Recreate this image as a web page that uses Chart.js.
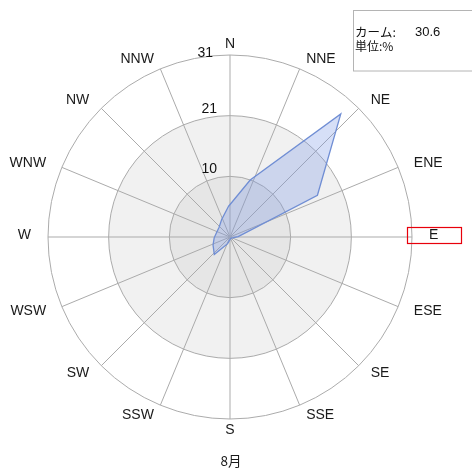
<!DOCTYPE html>
<html><head><meta charset="utf-8">
<script src="https://cdn.jsdelivr.net/npm/chart.js@4/dist/chart.umd.min.js"></script>
<style>html,body{margin:0;padding:0;background:#fff}canvas{display:block}</style>
</head><body>
<canvas id="c" width="472" height="472"></canvas>
<script>
const DIRECTIONS = ['N','NNE','NE','ENE','E','ESE','SE','SSE','S','SSW','SW','WSW','W','WNW','NW','NNW'];
const FREQUENCY = [5.2, 10.3, 28.2, 16.5, 1.4, 0.5, 0.3, 0.3, 0.4, 1.2, 4.0, 3.2, 2.7, 2.4, 2.5, 3.3];
const CALM = 30.6;
const UNIT = '%';
const MONTH_LABEL = '8月';
const SCALE_MAX = 31;
const RING_VALUES = [10.33, 20.67, 31];
const RING_LABELS = ['10', '21', '31'];
const HIGHLIGHT = 'E';

const FONT = '"Liberation Sans", Arial, "Noto Sans CJK JP", sans-serif';
const JFONT = '"Noto Sans CJK JP", "Liberation Sans", sans-serif';

const decor = {
  id: 'decor',
  beforeDraw(chart) {
    const s = chart.scales.r, ctx = chart.ctx;
    const fills = ['#ffffff', '#f1f1f1', '#e6e6e6'];
    const vals = [RING_VALUES[2], RING_VALUES[1], RING_VALUES[0]];
    ctx.save();
    vals.forEach((v, i) => {
      ctx.beginPath();
      ctx.arc(s.xCenter, s.yCenter, s.getDistanceFromCenterForValue(v), 0, Math.PI * 2);
      ctx.fillStyle = fills[i];
      ctx.fill();
    });
    ctx.restore();
  },
  afterDraw(chart) {
    const s = chart.scales.r, ctx = chart.ctx;
    ctx.save();
    // ring labels
    ctx.font = '14px ' + FONT;
    ctx.fillStyle = '#111';
    ctx.textAlign = 'right';
    ctx.textBaseline = 'alphabetic';
    RING_VALUES.forEach((v, i) => {
      const r = s.getDistanceFromCenterForValue(v);
      const last = i === RING_VALUES.length - 1;
      ctx.fillText(RING_LABELS[i], s.xCenter - (last ? 17 : 13), s.yCenter - r + (last ? 2 : -3));
    });
    // direction labels
    ctx.font = '14px ' + FONT;
    ctx.textBaseline = 'middle';
    ctx.textAlign = 'center';
    DIRECTIONS.forEach((d, i) => {
      const w = ctx.measureText(d).width;
      const th = i * 2 * Math.PI / DIRECTIONS.length;
      const sn = Math.sin(th), cs = Math.cos(th);
      const sg = Math.abs(sn) < 1e-6 ? 0 : Math.sign(sn);
      const x = s.xCenter + 199 * sn + sg * w / 2;
      const y = s.yCenter - 193 * cs - (Math.abs(cs) < 1e-6 ? 2 : 0);
      ctx.fillStyle = '#1a1a1a';
      ctx.fillText(d, x, y);
      if (d === HIGHLIGHT) {
        ctx.strokeStyle = '#e8000b';
        ctx.lineWidth = 1.2;
        ctx.strokeRect(Math.round(x) - 26.5, Math.round(y) - 7.5, 54, 16);
      }
    });
    // month label
    ctx.font = '13.5px ' + JFONT;
    ctx.fillStyle = '#1a1a1a';
    ctx.fillText(MONTH_LABEL, s.xCenter + 1, 461);
    // info box
    ctx.fillStyle = '#fff';
    ctx.fillRect(353.5, 10.5, 130, 60.5);
    ctx.strokeStyle = '#b4b4b4';
    ctx.lineWidth = 1;
    ctx.strokeRect(353.5, 10.5, 130, 60.5);
    ctx.fillStyle = '#111';
    ctx.textAlign = 'left';
    ctx.font = '12.5px ' + JFONT;
    ctx.fillText('カーム:', 355, 32);
    ctx.font = '13px ' + FONT;
    ctx.fillText(CALM.toFixed(1), 415, 32);
    ctx.font = '12px ' + JFONT;
    ctx.fillText('単位:' + UNIT, 355, 46);
    ctx.restore();
  }
};

const sharedScale = {
  min: 0,
  max: SCALE_MAX,
  afterBuildTicks: (scale) => { scale.ticks = [0].concat(RING_VALUES).map(v => ({ value: v })); },
  ticks: { display: false },
  pointLabels: { display: false }
};

new Chart(document.getElementById('c'), {
  type: 'radar',
  data: {
    labels: DIRECTIONS,
    datasets: [{
      data: FREQUENCY,
      rAxisID: 'r2',
      fill: true,
      backgroundColor: 'rgba(120,150,230,0.3)',
      borderColor: 'rgb(112,142,212)',
      borderWidth: 1.3,
      pointRadius: 0,
      tension: 0
    }]
  },
  options: {
    responsive: false,
    animation: false,
    layout: { padding: { left: 48, right: 60, top: 55, bottom: 53 } },
    plugins: { legend: { display: false }, tooltip: { enabled: false } },
    scales: {
      r: Object.assign({}, sharedScale, {
        grid: { circular: true, color: '#ababab', lineWidth: 1 },
        angleLines: { color: '#ababab', lineWidth: 1 }
      }),
      r2: Object.assign({}, sharedScale, {
        type: 'radialLinear',
        startAngle: -3,
        grid: { display: false },
        angleLines: { display: false }
      })
    }
  },
  plugins: [decor]
});
</script>
</body></html>
